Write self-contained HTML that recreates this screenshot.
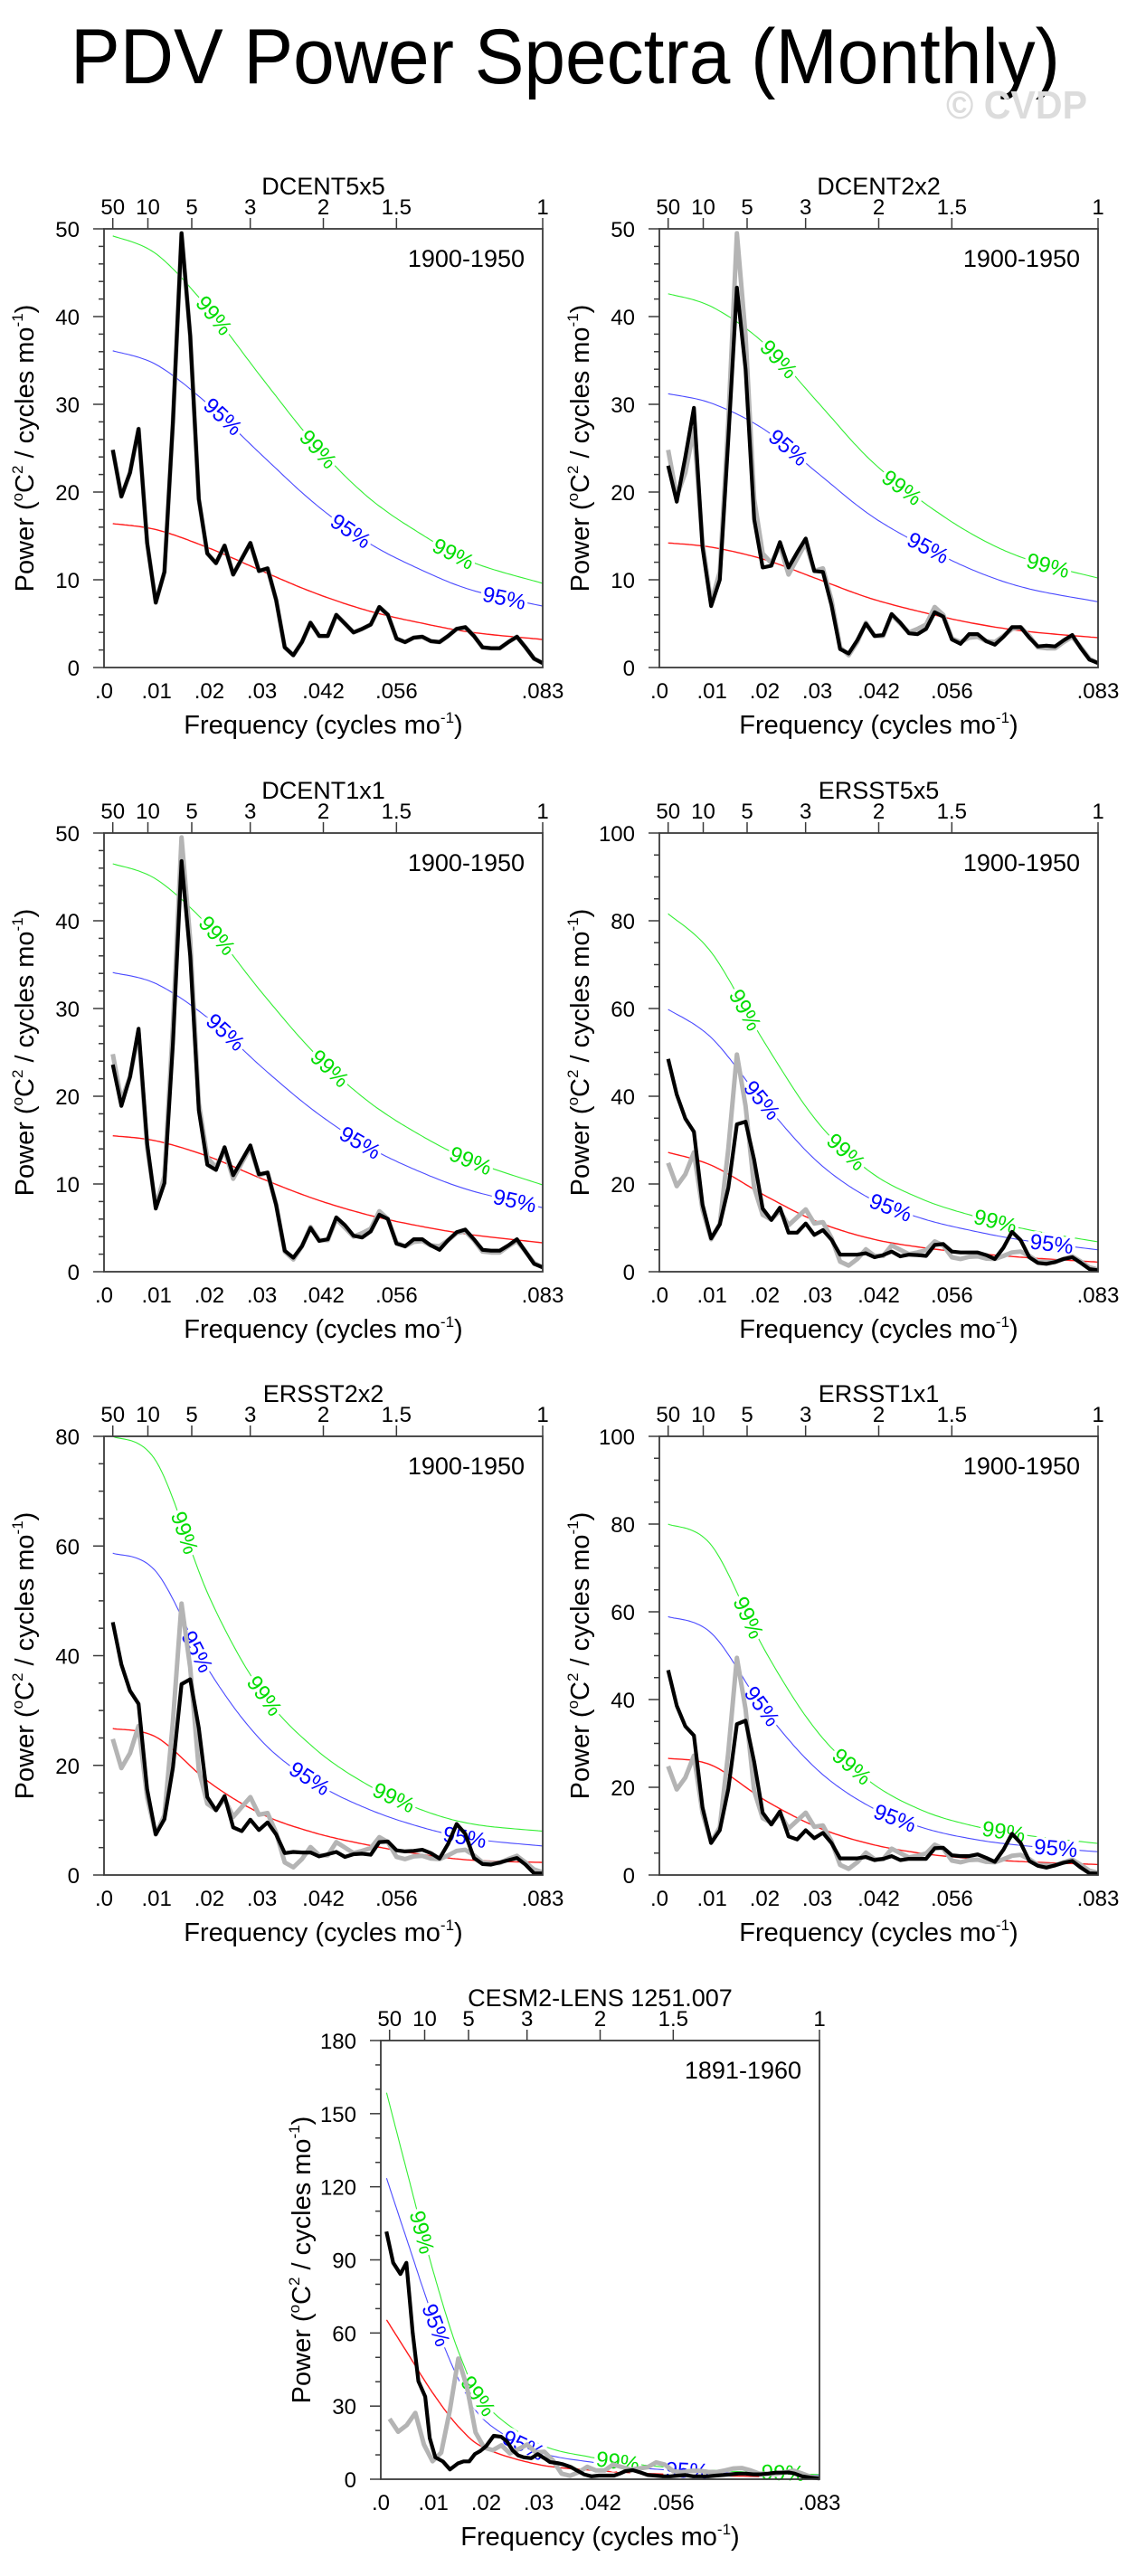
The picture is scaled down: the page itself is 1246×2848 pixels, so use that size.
<!DOCTYPE html>
<html>
<head>
<meta charset="utf-8">
<style>
  html,body{margin:0;padding:0;background:#fff;}
  svg{display:block;font-family:"Liberation Sans",Arial,sans-serif;}
</style>
</head>
<body>
<svg id="fig" xmlns="http://www.w3.org/2000/svg" width="1246" height="2848" viewBox="0 0 1246 2848">
  <rect x="0" y="0" width="1246" height="2848" fill="#fff"/>
  <text x="78" y="92" font-size="86" textLength="1094" lengthAdjust="spacingAndGlyphs" fill="#000">PDV Power Spectra (Monthly)</text>
  <text x="1046" y="131" font-size="44" font-weight="bold" textLength="156" lengthAdjust="spacingAndGlyphs" fill="#dcdcdc">© CVDP</text>
</svg>
<script>
// ---------- data ----------
const obsFreq = [0.00167,0.00330,0.00493,0.00657,0.00820,0.00983,0.01147,0.01310,0.01473,0.01637,
0.01800,0.01963,0.02127,0.02290,0.02453,0.02617,0.02780,0.02943,0.03107,0.03270,
0.03433,0.03597,0.03760,0.03923,0.04087,0.04250,0.04413,0.04577,0.04740,0.04903,
0.05067,0.05230,0.05393,0.05557,0.05720,0.05883,0.06047,0.06210,0.06373,0.06537,
0.06700,0.06863,0.07027,0.07190,0.07353,0.07517,0.07680,0.07843,0.08007,0.08170,0.08333];
const dcent5Power = [24.8,19.5,22.2,27.2,14.2,7.4,10.9,28.0,49.5,37.8,19.2,13.0,11.9,13.9,10.6,12.4,14.2,11.0,11.3,7.7,2.3,1.4,2.9,5.1,3.6,3.6,6.0,5.0,4.0,4.4,4.9,6.9,6.0,3.3,2.9,3.4,3.5,3.0,2.9,3.6,4.4,4.6,3.6,2.3,2.2,2.2,2.9,3.5,2.3,1.0,0.5];
const dcent2Power = [23.0,18.9,24.0,29.6,13.7,7.0,10.0,26.0,43.3,34.0,16.9,11.4,11.6,14.3,11.4,13.1,14.7,11.0,10.9,7.1,2.1,1.6,3.1,5.0,3.6,3.7,6.1,5.1,3.9,3.8,4.4,6.3,5.8,3.2,2.7,3.8,3.8,3.0,2.6,3.5,4.6,4.6,3.4,2.4,2.5,2.4,3.1,3.7,2.2,0.9,0.5];
const dcent1Power = [23.6,18.9,22.2,27.7,14.6,7.2,10.1,26.0,46.8,36.0,18.4,12.2,11.6,14.2,11.0,12.7,14.4,11.1,11.3,7.6,2.4,1.6,2.9,5.0,3.5,3.7,6.2,5.3,4.1,3.9,4.6,6.5,6.0,3.2,2.9,3.7,3.7,3.0,2.5,3.6,4.5,4.8,3.7,2.5,2.4,2.4,3.0,3.7,2.3,0.9,0.5];
const ersst5Power = [48.5,40.4,34.9,31.9,15.3,7.6,10.8,19.1,33.6,34.2,25.5,14.4,11.8,14.6,8.9,8.9,11.0,8.4,9.5,7.3,3.9,3.9,3.9,4.2,3.3,3.8,4.6,3.5,3.9,3.8,3.6,6.1,6.3,4.6,4.4,4.4,4.4,3.8,2.9,5.5,9.1,7.2,3.3,2.0,1.8,2.2,2.9,3.3,2.0,0.6,0.3];
const ersst2Power = [46.1,38.4,33.6,31.2,15.6,7.4,10.2,19.6,34.8,35.7,26.8,14.2,11.8,14.4,8.7,8.0,10.1,8.2,9.6,7.4,4.0,4.2,4.1,4.1,3.4,3.8,4.2,3.3,3.8,3.9,3.7,6.0,6.1,4.5,4.3,4.4,4.6,4.0,3.0,5.7,9.3,7.5,3.1,2.0,1.9,2.3,2.7,3.1,1.9,0.3,0.3];
const ersst1Power = [46.7,38.6,33.9,31.8,15.4,7.3,10.2,19.6,34.4,35.2,25.8,14.2,11.5,14.5,8.8,8.1,10.2,8.4,9.6,7.3,3.8,3.8,3.8,4.1,3.4,3.7,4.3,3.4,3.7,3.7,3.7,6.1,6.2,4.5,4.3,4.3,4.7,3.9,3.0,5.8,9.4,7.3,3.2,2.1,1.7,2.2,2.8,3.2,1.7,0.4,0.3];
const cesmFreq = [0.00107,0.00236,0.00372,0.00486,0.00607,0.00715,0.00843,0.00929,0.01036,0.01179,
0.01315,0.01465,0.01572,0.01680,0.01787,0.01894,0.02001,0.02144,0.02287,0.02394,
0.02501,0.02609,0.02716,0.02859,0.02980,0.03109,0.03216,0.03359,0.03466,0.03609,
0.03716,0.03859,0.04002,0.04145,0.04288,0.04431,0.04538,0.04646,0.04788,0.04931,
0.05074,0.05217,0.05360,0.05503,0.05646,0.05789,0.05932,0.06075,0.06218,0.06361,
0.06504,0.06647,0.06790,0.06933,0.07076,0.07218,0.07361,0.07504,0.07647,0.07754,
0.07862,0.08004,0.08147,0.08333];
const cesmPower = [101.6,88.8,84.2,88.8,60,40.2,33.9,16.9,9.0,7.3,4.0,6.5,7.3,7.3,10.3,11.6,13.6,17.8,17.4,15.6,11.9,9.8,9.0,8.6,10.3,8.6,7.0,6.6,6.1,5.0,3.7,2.0,1.2,1.5,1.5,1.5,2.3,3.3,3.7,2.8,1.7,1.5,1.2,1.2,1.5,1.7,1.2,1.2,1.2,1.5,1.7,2.0,2.3,2.3,2.0,2.0,2.3,2.7,2.7,2.8,2.3,1.2,0.7,0.3];

const redFreqObs = [0.00167,0.01,0.02,0.03,0.04,0.05,0.06,0.07,0.0833];
const redFreqCesm = [0.0011,0.005,0.01,0.015,0.02,0.03,0.04,0.05,0.06,0.07,0.0833];

const dcent5Red = [16.4,15.7,13.6,11.0,8.5,6.5,5.1,4.0,3.2];
const dcent5Sig95 = [36.1,34.5,29.9,24.2,18.7,14.3,11.2,8.8,7.0];
const dcent5Sig99 = [49.2,47.1,40.8,33.0,25.5,19.5,15.3,12.0,9.6];
const dcent2Red = [14.2,13.7,12.3,10.1,7.9,6.3,5.0,4.1,3.4];
const dcent2Sig95 = [31.2,30.1,27.1,22.2,17.4,13.9,11.0,9.0,7.5];
const dcent2Sig99 = [42.6,41.1,36.9,30.3,23.7,18.9,15.0,12.3,10.2];
const dcent1Red = [15.5,14.9,13.1,10.6,8.3,6.5,5.2,4.2,3.3];
const dcent1Sig95 = [34.1,32.8,28.8,23.3,18.3,14.3,11.4,9.2,7.3];
const dcent1Sig99 = [46.5,44.7,39.3,31.8,24.9,19.5,15.6,12.6,9.9];
const ersst5Red = [27.2,24.2,17.4,11.4,7.6,5.5,4.2,3.2,2.2];
const ersst5Sig95 = [59.8,53.2,38.3,25.1,16.7,12.1,9.2,7.0,5.0];
const ersst5Sig99 = [81.6,72.6,52.2,34.2,22.8,16.5,12.6,9.6,6.8];
const ersst2Red = [26.7,25.1,16.9,11.1,7.7,5.5,3.8,2.7,2.3];
const ersst2Sig95 = [58.7,55.2,37.2,24.4,16.9,12.1,8.8,6.6,5.3];
const ersst2Sig99 = [80.0,75.3,50.7,33.3,23.1,16.5,12.0,9.3,8.0];
const ersst1Red = [26.6,25.0,17.1,10.9,7.1,4.9,3.7,3.0,2.4];
const ersst1Sig95 = [58.9,55.0,37.6,24.0,15.6,10.8,8.1,6.6,5.3];
const ersst1Sig99 = [80.0,75.0,51.3,32.7,21.3,14.7,11.1,9.0,7.2];
const cesmRed = [65.4,52,35,21,12.5,6,3.7,2.4,1.7,1.2,0.8];
const cesmSig95 = [123.5,98,66,40,23.6,11.3,7.0,4.5,3.2,2.3,1.5];
const cesmSig99 = [158.6,126,85,51,30.4,14.6,9.0,5.8,4.1,2.9,1.9];

const topPeriods = ["50","10","5","3","2","1.5","1"];
const topPeriodYears = [50,10,5,3,2,1.5,1];
const bottomLabels = [".0",".01",".02",".03",".042",".056",".083"];
const bottomValues = [0,0.01,0.02,0.03,1/24,1/18,1/12];

// ---------- drawing ----------
const NS = "http://www.w3.org/2000/svg";
const svg = document.getElementById("fig");
const SIZE = 485, XMAX = 1/12;
function mk(tag, attrs, parent){ const e=document.createElementNS(NS,tag); for(const k in attrs) e.setAttribute(k,attrs[k]); (parent||svg).appendChild(e); return e; }

function spline(pts){
  const out=[]; const n=pts.length;
  for(let i=0;i<n-1;i++){
    const p0=pts[Math.max(i-1,0)],p1=pts[i],p2=pts[i+1],p3=pts[Math.min(i+2,n-1)];
    for(let s=0;s<20;s++){
      const t=s/20,t2=t*t,t3=t2*t;
      const f=(a,b,c,d)=>0.5*((2*b)+(-a+c)*t+(2*a-5*b+4*c-d)*t2+(-a+3*b-3*c+d)*t3);
      out.push([f(p0[0],p1[0],p2[0],p3[0]),f(p0[1],p1[1],p2[1],p3[1])]);
    }
  }
  out.push(pts[n-1]); return out;
}

function panel(cfg){
  const g = mk("g",{});
  
  
  const L=cfg.left, T=cfg.top, B=T+SIZE, R=L+SIZE;
  const xs=f=>L+f/XMAX*SIZE, ys=v=>B-v/cfg.ymax*SIZE;
  const pathOf=pts=>pts.map((p,i)=>(i?"L":"M")+p[0].toFixed(1)+" "+p[1].toFixed(1)).join(" ");

  const curves=[[cfg.sig99,"#33ee33",1.1,"sig99-curve"],[cfg.sig95,"#4a4aff",1.1,"sig95-curve"],[cfg.red,"#ff1a1a",1.4,"red-noise-curve"]];
  const dense={};
  curves.forEach(c=>{
    const pts=spline(cfg.redFreq.map((f,i)=>[xs(f),ys(c[0][i])]));
    dense[c[3]]=pts;
    const p=mk("path",{d:pathOf(pts),fill:"none",stroke:c[1],"stroke-width":c[2]},g);
    
    
  });
  const labs=[[cfg.lab99,"sig99-curve","99%","#00dd00"],[cfg.lab95,"sig95-curve","95%","#0000ff"]];
  labs.forEach(l=>{
    const pts=dense[l[1]];
    l[0].forEach(f=>{
      const px=xs(f); let j=1;
      while(j<pts.length-2 && pts[j][0]<px) j++;
      const a=Math.atan2(pts[j+1][1]-pts[j-1][1],pts[j+1][0]-pts[j-1][0])*180/Math.PI;
      const py=pts[j][1];
      const t=mk("text",{x:0,y:0,transform:`translate(${px.toFixed(1)},${py.toFixed(1)}) rotate(${a.toFixed(1)})`,"text-anchor":"middle","dominant-baseline":"central","font-size":24,fill:l[3],stroke:"#fff","stroke-width":7,"paint-order":"stroke"},g);
      t.textContent=l[2];
      
      
    });
  });
  cfg.series.forEach(s=>{
    const p=mk("path",{d:pathOf(s.freq.map((f,i)=>[xs(f),ys(s.vals[i])])),fill:"none",stroke:s.color,"stroke-width":s.width,"stroke-linejoin":"round"},g);
    
    
  });
  const fr=mk("rect",{x:L,y:T,width:SIZE,height:SIZE,fill:"none",stroke:"#3a3a3a","stroke-width":1.8},g);
  
  
  for(let v=0; v<=cfg.ymax+1e-9; v+=cfg.yminor){
    const major=Math.abs(v/cfg.ymajor-Math.round(v/cfg.ymajor))<1e-6;
    const y=ys(v);
    const tk=mk("line",{x1:L-(major?12:6),x2:L,y1:y,y2:y,stroke:"#3a3a3a","stroke-width":1.5},g);
    
    
    if(major){
      const t=mk("text",{x:L-27,y:y+9,"text-anchor":"end","font-size":24},g);
      t.textContent=String(Math.round(v));
      
      
    }
  }
  topPeriodYears.forEach((p,i)=>{
    const x=xs(1/(12*p));
    const tk=mk("line",{x1:x,x2:x,y1:T-12,y2:T,stroke:"#3a3a3a","stroke-width":1.5},g);
    
    
    const t=mk("text",{x:x,y:T-16,"text-anchor":"middle","font-size":24},g);
    t.textContent=topPeriods[i];
    
    
  });
  bottomValues.forEach((f,i)=>{
    const t=mk("text",{x:xs(f),y:B+34,"text-anchor":"middle","font-size":24},g);
    t.textContent=bottomLabels[i];
    
    
  });
  const ti=mk("text",{x:L+SIZE/2,y:T-38,"text-anchor":"middle","font-size":27},g);
  ti.textContent=cfg.title;
  
  
  const pe=mk("text",{x:R-20,y:T+42,"text-anchor":"end","font-size":27},g);
  pe.textContent=cfg.period;
  
  
  const xt=mk("text",{x:L+SIZE/2,y:B+73,"text-anchor":"middle","font-size":29},g);
  xt.innerHTML='Frequency (cycles mo<tspan font-size="17" dy="-12">-1</tspan><tspan dy="12">)</tspan>';
  
  
  const yt=mk("text",{x:0,y:0,transform:`translate(${L-78},${T+SIZE/2}) rotate(-90)`,"text-anchor":"middle","font-size":29},g);
  yt.innerHTML='Power (<tspan font-size="17" dy="-12">o</tspan><tspan dy="12">C</tspan><tspan font-size="17" dy="-12">2</tspan><tspan dy="12"> / cycles mo</tspan><tspan font-size="17" dy="-12">-1</tspan><tspan dy="12">)</tspan>';
  
  
}

const GRAY="#b4b4b4";
function obsSeries(vals){ return [
  {freq:obsFreq, vals:dcent5Power, color:GRAY, width:5, name:'reference-spectrum-gray'},
  {freq:obsFreq, vals:vals, color:"#000", width:4.2, name:'spectrum-black'}]; }

panel({id:"dcent5x5",left:115,top:253,ymax:50,ymajor:10,yminor:2,title:"DCENT5x5",period:"1900-1950",
  series:obsSeries(dcent5Power),redFreq:redFreqObs,red:dcent5Red,sig95:dcent5Sig95,sig99:dcent5Sig99,
  lab99:[0.0208,0.0406,0.0663],lab95:[0.0225,0.0468,0.076]});
panel({id:"dcent2x2",left:729,top:253,ymax:50,ymajor:10,yminor:2,title:"DCENT2x2",period:"1900-1950",
  series:obsSeries(dcent2Power),redFreq:redFreqObs,red:dcent2Red,sig95:dcent2Sig95,sig99:dcent2Sig99,
  lab99:[0.0226,0.046,0.0738],lab95:[0.0244,0.051]});
panel({id:"dcent1x1",left:115,top:921,ymax:50,ymajor:10,yminor:2,title:"DCENT1x1",period:"1900-1950",
  series:obsSeries(dcent1Power),redFreq:redFreqObs,red:dcent1Red,sig95:dcent1Sig95,sig99:dcent1Sig99,
  lab99:[0.0214,0.0428,0.0696],lab95:[0.023,0.0486,0.078]});
panel({id:"ersst5x5",left:729,top:921,ymax:100,ymajor:20,yminor:5,title:"ERSST5x5",period:"1900-1950",
  series:obsSeries(ersst5Power),redFreq:redFreqObs,red:ersst5Red,sig95:ersst5Sig95,sig99:ersst5Sig99,
  lab99:[0.0162,0.0354,0.0638],lab95:[0.0194,0.0439,0.0745]});
panel({id:"ersst2x2",left:115,top:1588,ymax:80,ymajor:20,yminor:5,title:"ERSST2x2",period:"1900-1950",
  series:obsSeries(ersst2Power),redFreq:redFreqObs,red:ersst2Red,sig95:ersst2Sig95,sig99:ersst2Sig99,
  lab99:[0.0152,0.0304,0.055],lab95:[0.0176,0.039,0.0685]});
panel({id:"ersst1x1",left:729,top:1588,ymax:100,ymajor:20,yminor:5,title:"ERSST1x1",period:"1900-1950",
  series:obsSeries(ersst1Power),redFreq:redFreqObs,red:ersst1Red,sig95:ersst1Sig95,sig99:ersst1Sig99,
  lab99:[0.0168,0.0365,0.0654],lab95:[0.0194,0.0447,0.0753]});
panel({id:"cesm2-lens",left:421,top:2256,ymax:180,ymajor:30,yminor:10,title:"CESM2-LENS 1251.007",period:"1891-1960",
  series:[{freq:obsFreq, vals:dcent5Power, color:GRAY, width:5, name:'reference-spectrum-gray'},
          {freq:cesmFreq, vals:cesmPower, color:"#000", width:4.2, name:'spectrum-black'}],
  redFreq:redFreqCesm,red:cesmRed,sig95:cesmSig95,sig99:cesmSig99,
  lab99:[0.0077,0.0184,0.045,0.0764],lab95:[0.0104,0.0271,0.0582]});
</script>
</body>
</html>
